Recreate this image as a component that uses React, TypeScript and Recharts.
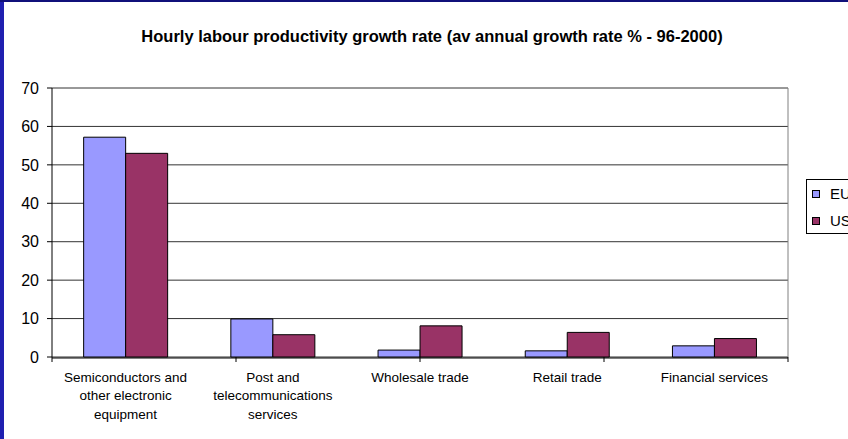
import { Bar, BarChart, CartesianGrid, Text, XAxis, YAxis } from "recharts";

const categories = [
  "Semiconductors and other electronic equipment",
  "Post and telecommunications services",
  "Wholesale trade",
  "Retail trade",
  "Financial services",
];
const euValues = [57.2, 9.9, 1.8, 1.6, 2.9];
const usValues = [53.0, 5.8, 8.1, 6.4, 4.8];
const yTicks = [0, 10, 20, 30, 40, 50, 60, 70];
const boundaryTicks = [0, 1, 2, 3, 4, 5];

const series = [
  { key: "EU", color: "#9999FF" },
  { key: "US", color: "#993366" },
];

const data = categories.map((name, i) => ({ name, EU: euValues[i], US: usValues[i] }));

const FONT = '"Liberation Sans", Arial, sans-serif';

function CategoryTick({ x, y, payload }: any) {
  return (
    <Text
      x={x}
      y={y + 6}
      width={140}
      textAnchor="middle"
      verticalAnchor="start"
      lineHeight={18.5}
      fontSize={13.5}
      fontFamily={FONT}
      fill="#000"
    >
      {payload.value}
    </Text>
  );
}

const NoLabel = () => <g />;

export default function App() {
  return (
    <div
      style={{
        position: "fixed",
        left: 0,
        top: 0,
        width: 848,
        height: 439,
        overflow: "hidden",
        background: "#fff",
        fontFamily: FONT,
      }}
    >
      <div
        style={{
          position: "absolute",
          left: 0,
          top: 27,
          width: 864,
          textAlign: "center",
          fontWeight: "bold",
          fontSize: 16.5,
          lineHeight: "19px",
          color: "#000",
        }}
      >
        Hourly labour productivity growth rate (av annual growth rate % - 96-2000)
      </div>

      <div style={{ position: "absolute", left: 0, top: 0 }}>
        <BarChart
          width={848}
          height={439}
          data={data}
          margin={{ top: 88, right: 59, bottom: 0, left: 0 }}
          barCategoryGap="21.5%"
          barGap={0}
        >
          <CartesianGrid vertical={false} stroke="#333" />
          {/* boundary tick marks between categories (id 0 so it sits right on the plot edge) */}
          <XAxis
            xAxisId={0}
            type="number"
            domain={[0, 5]}
            ticks={boundaryTicks}
            height={1}
            axisLine={false}
            tick={NoLabel}
            tickSize={5}
            tickLine={{ stroke: "#000" }}
          />
          <XAxis
            xAxisId={1}
            dataKey="name"
            height={81}
            interval={0}
            tickLine={false}
            axisLine={{ stroke: "#000" }}
            tick={<CategoryTick />}
          />
          <YAxis
            domain={[0, 70]}
            ticks={yTicks}
            width={52}
            tickSize={5}
            tickMargin={8}
            axisLine={{ stroke: "#000" }}
            tickLine={{ stroke: "#000" }}
            tick={{ fontSize: 16, fill: "#000", fontFamily: FONT }}
          />
          <YAxis
            yAxisId="right"
            orientation="right"
            domain={[0, 70]}
            width={1}
            tick={NoLabel}
            tickLine={false}
            axisLine={{ stroke: "#808080" }}
          />
          {series.map((s) => (
            <Bar
              key={s.key}
              xAxisId={1}
              dataKey={s.key}
              fill={s.color}
              stroke="#000"
              strokeWidth={1}
              isAnimationActive={false}
            />
          ))}
        </BarChart>
      </div>

      <div
        style={{
          position: "absolute",
          left: 806,
          top: 179,
          width: 80,
          height: 53,
          border: "1px solid #000",
          background: "#fff",
        }}
      >
        {series.map((s, i) => (
          <div
            key={s.key}
            style={{
              position: "absolute",
              left: 5,
              top: 5 + i * 27,
              display: "flex",
              alignItems: "center",
              fontSize: 15,
              lineHeight: "17px",
            }}
          >
            <span
              style={{
                display: "inline-block",
                width: 6,
                height: 6,
                border: "1px solid #000",
                background: s.color,
                marginRight: 10,
              }}
            />
            {s.key}
          </div>
        ))}
      </div>

      <div style={{ position: "absolute", left: 0, top: 0, width: 4, height: 439, background: "#1f1fb0" }} />
      <div style={{ position: "absolute", left: 0, top: 0, width: 848, height: 2, background: "#10107a" }} />
    </div>
  );
}
